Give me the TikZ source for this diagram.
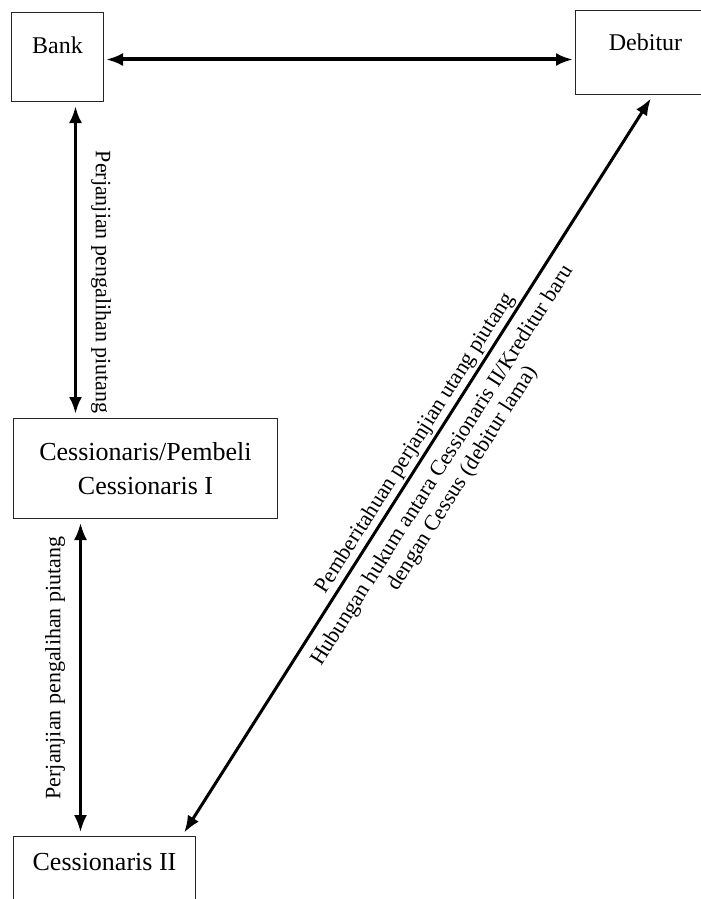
\documentclass[tikz,border=0pt]{standalone}
\usepackage{fontspec}
\setmainfont{Liberation Serif}
\usetikzlibrary{arrows.meta}

\begin{document}
\begin{tikzpicture}[x=1pt,y=-1pt,
	kotak/.style={draw=black!85,line width=1pt,anchor=north west,inner sep=0pt},
	panah/.style={>={Latex[length=17pt,width=13pt]},<->,line width=3pt,shorten <=4pt,shorten >=4pt},
	ket/.style={font=\fontsize{22}{24}\selectfont}]
	\useasboundingbox (0,0) rectangle (701,899);
	\node[kotak,minimum width=92pt,text height=41pt,text depth=48pt,font=\fontsize{24}{28}\selectfont] (bank) at (11,12) {Bank};
	\node[kotak,minimum width=140pt,text height=40pt,text depth=44pt,font=\fontsize{24}{28}\selectfont] (debitur) at (575,10) {Debitur};
	\node[kotak,minimum width=264pt,minimum height=100pt,align=center,font=\fontsize{26}{34}\selectfont] (cess1) at (13,418) {Cessionaris/Pembeli\\Cessionaris I};
	\node[kotak,minimum width=182pt,text height=34pt,text depth=60pt,font=\fontsize{26}{34}\selectfont] (cess2) at (13,836) {Cessionaris II};

	\draw[panah,line width=4pt,shorten <=2pt,shorten >=2pt] ([yshift=-2.5pt]bank.east) -- ([yshift=-2.5pt]bank.east -| debitur.west);
	\draw[panah,line width=3.4pt] ([xshift=18pt]bank.south) -- ([xshift=18pt]bank.south |- cess1.north)
		node[ket,pos=0.57,anchor=south,rotate=-90,inner sep=14pt] {Perjanjian pengalihan piutang};
	\draw[panah,line width=2.6pt] ([xshift=-24pt]cess2.north) -- ([xshift=-24pt]cess2.north |- cess1.south)
		node[ket,pos=0.53,anchor=south,rotate=90,inner sep=14pt] {Perjanjian pengalihan piutang};
	\draw[panah] ([xshift=-14pt]cess2.north east) -- ([xshift=78pt]debitur.south west)
		node[ket,pos=0.52,sloped,above,inner sep=2pt] {Pemberitahuan perjanjian utang piutang}
		node[ket,pos=0.515,sloped,below,inner sep=10pt,align=center] {Hubungan hukum antara Cessionaris II/Kreditur baru\\dengan Cessus (debitur lama)};
\end{tikzpicture}
\end{document}
